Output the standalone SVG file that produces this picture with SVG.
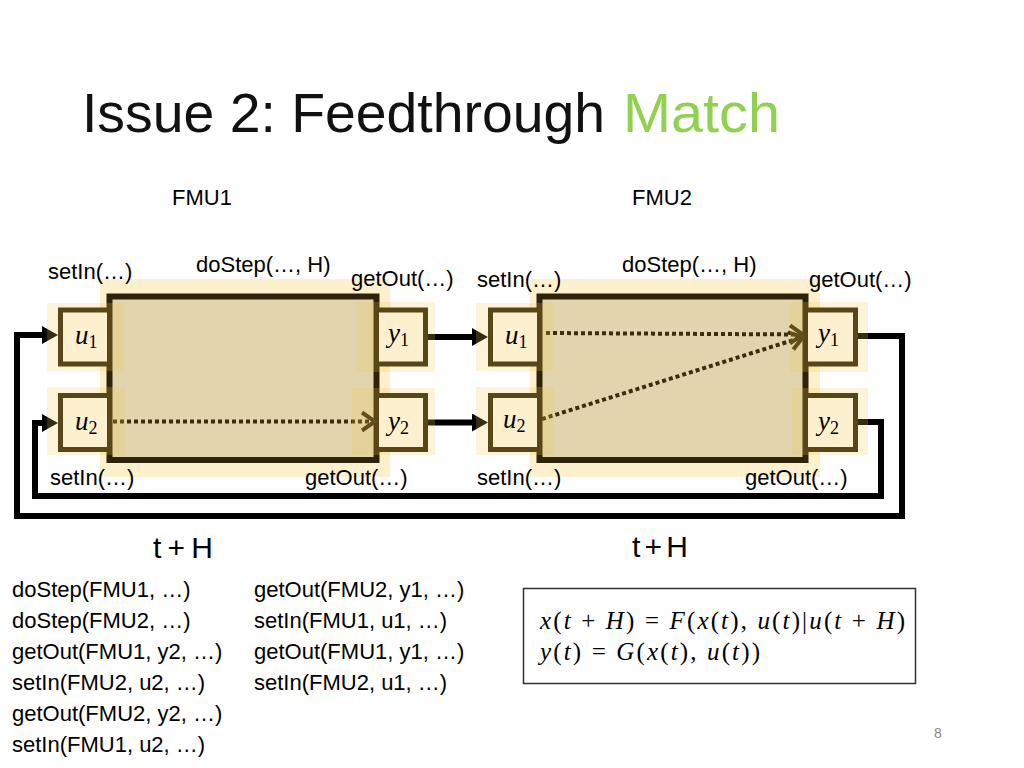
<svg xmlns="http://www.w3.org/2000/svg" width="1024" height="768" viewBox="0 0 1024 768">
<defs>
<style>
.lbl{font-family:"Liberation Sans",Arial,sans-serif;font-size:22px;fill:#000}
.title{font-family:"Liberation Sans",Arial,sans-serif;font-size:55px;fill:#111}
.th{font-family:"Liberation Sans",Arial,sans-serif;font-size:30px;fill:#000}
.mhl{fill:#fdf0cc}
.hl{fill:#f2c94c;opacity:0.22}
.main{fill:#e2d5ad;stroke:#2e2208;stroke-width:6}
.port{fill:#fffbf2;stroke:#2e2208;stroke-width:5}
.wire{fill:none;stroke:#000;stroke-width:6;stroke-linejoin:miter}
.dot{fill:none;stroke:#3b2c0e;stroke-width:4;stroke-dasharray:4 3}
.var{font-family:"Liberation Serif","DejaVu Serif",serif;font-size:27px;font-style:italic;fill:#000}
.sub{font-style:normal;font-size:18px}
.math{font-family:"Liberation Serif","DejaVu Serif",serif;font-size:25px;fill:#000}
.it{font-style:italic}
</style>
<marker id="arr" markerUnits="userSpaceOnUse" markerWidth="16" markerHeight="18" refX="0" refY="9" orient="auto"><path d="M0,0 L16,9 L0,18 z" fill="#000"/></marker>
<marker id="chev" markerUnits="userSpaceOnUse" markerWidth="18" markerHeight="24" refX="15" refY="12" orient="auto"><path d="M2,3 L15,12 L2,21" fill="none" stroke="#3b2c0e" stroke-width="4"/></marker>
</defs>
<rect width="1024" height="768" fill="#fff"/>

<text class="title" x="82" y="132" textLength="523" lengthAdjust="spacingAndGlyphs">Issue 2: Feedthrough</text>
<text class="title" x="623" y="132" style="fill:#92d050" textLength="157" lengthAdjust="spacingAndGlyphs">Match</text>

<text class="lbl" x="172" y="205">FMU1</text>
<text class="lbl" x="632" y="205">FMU2</text>

<g id="connectors">
<path class="wire" d="M428,337 H472" marker-end="url(#arr)"/>
<path class="wire" d="M428,422.5 H472" marker-end="url(#arr)"/>
<path class="wire" d="M858,336 H902 V516 H17 V335 H42" marker-end="url(#arr)"/>
<path class="wire" d="M858,422 H881 V496 H35 V423 H42" marker-end="url(#arr)"/>
</g>

<g id="fmu1">
<rect class="mhl" x="100" y="279" width="290" height="198"/>
<rect class="main" x="109.5" y="296.5" width="267" height="163.5"/>
<rect class="port" x="60.5" y="310" width="49" height="54"/>
<rect class="port" x="60.5" y="395.5" width="49" height="54"/>
<rect class="port" x="376.5" y="310" width="49" height="54"/>
<rect class="port" x="376.5" y="395.5" width="49" height="54"/>
<path class="dot" d="M113,421.5 H375" marker-end="url(#chev)"/>
<rect class="hl" x="47" y="303" width="77" height="68"/>
<rect class="hl" x="47" y="387" width="78" height="68"/>
<rect class="hl" x="357" y="302" width="78" height="70"/>
<rect class="hl" x="352" y="388" width="83" height="67"/>
<text class="var" x="75" y="344">u<tspan class="sub" dy="4">1</tspan></text>
<text class="var" x="75" y="430">u<tspan class="sub" dy="4">2</tspan></text>
<text class="var" x="388" y="342">y<tspan class="sub" dy="4">1</tspan></text>
<text class="var" x="388" y="430">y<tspan class="sub" dy="4">2</tspan></text>
<text class="lbl" x="48" y="279">setIn(…)</text>
<text class="lbl" x="196" y="272">doStep(…, H)</text>
<text class="lbl" x="351" y="286">getOut(…)</text>
<text class="lbl" x="50" y="485">setIn(…)</text>
<text class="lbl" x="305" y="485">getOut(…)</text>
</g>

<g id="fmu2">
<rect class="mhl" x="530" y="279" width="290" height="198"/>
<rect class="main" x="539.5" y="296.5" width="266" height="163.5"/>
<rect class="port" x="490.5" y="310" width="49" height="54"/>
<rect class="port" x="490.5" y="395.5" width="49" height="54"/>
<rect class="port" x="805.5" y="310" width="50" height="54"/>
<rect class="port" x="805.5" y="395.5" width="50" height="54"/>
<path class="dot" d="M546,333 L803,334.5" marker-end="url(#chev)"/>
<path class="dot" d="M542,419 L803,337" marker-end="url(#chev)"/>
<rect class="hl" x="476" y="303" width="77" height="68"/>
<rect class="hl" x="476" y="387" width="78" height="68"/>
<rect class="hl" x="790" y="302" width="78" height="70"/>
<rect class="hl" x="792" y="388" width="76" height="67"/>
<text class="var" x="505" y="344">u<tspan class="sub" dy="4">1</tspan></text>
<text class="var" x="503" y="428">u<tspan class="sub" dy="4">2</tspan></text>
<text class="var" x="818" y="342">y<tspan class="sub" dy="4">1</tspan></text>
<text class="var" x="818" y="430">y<tspan class="sub" dy="4">2</tspan></text>
<text class="lbl" x="477" y="287">setIn(…)</text>
<text class="lbl" x="622" y="272">doStep(…, H)</text>
<text class="lbl" x="809" y="287">getOut(…)</text>
<text class="lbl" x="477" y="485">setIn(…)</text>
<text class="lbl" x="745" y="485">getOut(…)</text>
</g>

<text class="th" x="153" y="558" textLength="60" lengthAdjust="spacing">t+H</text>
<text class="th" x="632" y="557" textLength="56" lengthAdjust="spacing">t+H</text>

<g id="sequence">
<text class="lbl" x="12" y="597">doStep(FMU1, …)</text>
<text class="lbl" x="12" y="628">doStep(FMU2, …)</text>
<text class="lbl" x="12" y="659">getOut(FMU1, y2, …)</text>
<text class="lbl" x="12" y="690">setIn(FMU2, u2, …)</text>
<text class="lbl" x="12" y="721">getOut(FMU2, y2, …)</text>
<text class="lbl" x="12" y="752">setIn(FMU1, u2, …)</text>
<text class="lbl" x="254" y="597">getOut(FMU2, y1, …)</text>
<text class="lbl" x="254" y="628">setIn(FMU1, u1, …)</text>
<text class="lbl" x="254" y="659">getOut(FMU1, y1, …)</text>
<text class="lbl" x="254" y="690">setIn(FMU2, u1, …)</text>
</g>

<g id="equations">
<rect x="523.5" y="588.5" width="392" height="95" fill="#fff" stroke="#333" stroke-width="1.5"/>
<text class="math" x="540" y="629" textLength="365" lengthAdjust="spacing"><tspan class="it">x</tspan>(<tspan class="it">t</tspan> + <tspan class="it">H</tspan>) = <tspan class="it">F</tspan>(<tspan class="it">x</tspan>(<tspan class="it">t</tspan>), <tspan class="it">u</tspan>(<tspan class="it">t</tspan>)|<tspan class="it">u</tspan>(<tspan class="it">t</tspan> + <tspan class="it">H</tspan>)</text>
<text class="math" x="540" y="660" textLength="220" lengthAdjust="spacing"><tspan class="it">y</tspan>(<tspan class="it">t</tspan>) = <tspan class="it">G</tspan>(<tspan class="it">x</tspan>(<tspan class="it">t</tspan>), <tspan class="it">u</tspan>(<tspan class="it">t</tspan>))</text>
</g>

<text x="934" y="738" font-family="Liberation Sans, Arial, sans-serif" font-size="14" fill="#888">8</text>
</svg>
